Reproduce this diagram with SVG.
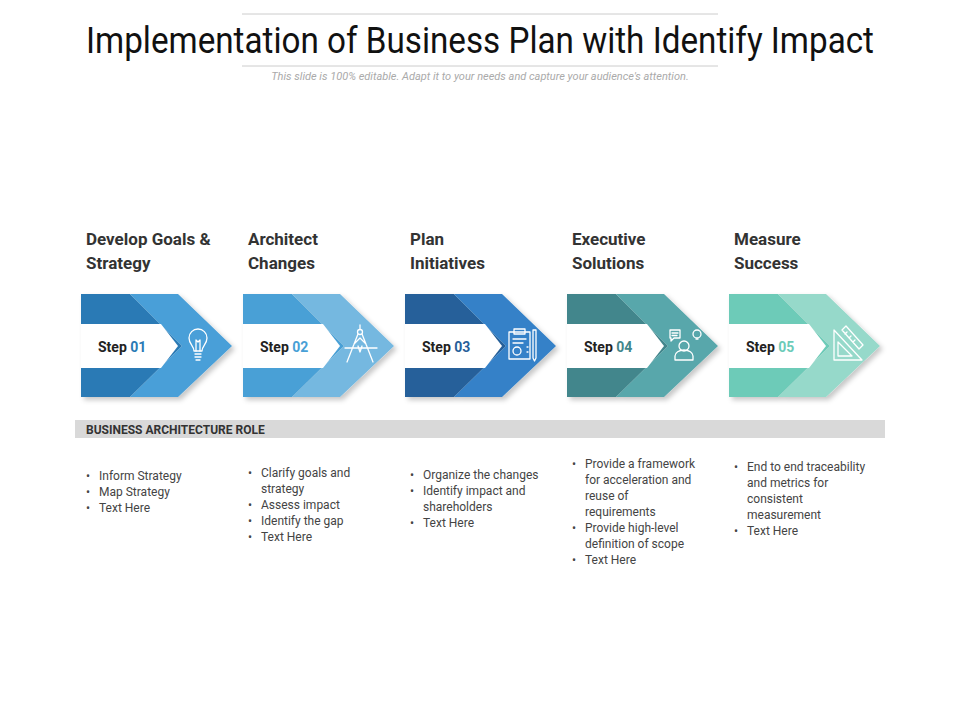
<svg xmlns="http://www.w3.org/2000/svg" width="960" height="720" viewBox="0 0 960 720">
<style>
text{font-family:"Liberation Sans Narrow","Roboto","Liberation Sans",sans-serif}
.h{font-size:17px;font-weight:bold;fill:#333}
.st{font-size:14px;font-weight:bold;fill:#222}
.b{font-size:12px;fill:#444}
.ic{fill:none;stroke:#fff;stroke-width:1.3;stroke-linejoin:round;stroke-linecap:round}
</style>
<defs>
<filter id="sh" x="-10%" y="-10%" width="130%" height="130%"><feDropShadow dx="3" dy="3" stdDeviation="2.5" flood-color="#000" flood-opacity="0.22"/></filter>
<g id="blk">
<polygon points="49,0 97,0 151,52 97,103 49,103 101,52" class="lt"/>
</g>
</defs>
<rect width="960" height="720" fill="#fff"/>
<line x1="242" y1="14" x2="718" y2="14" stroke="#ccc"/>
<line x1="242" y1="66" x2="718" y2="66" stroke="#ccc"/>
<text x="480" y="53" text-anchor="middle" font-size="36" fill="#111" textLength="788" lengthAdjust="spacingAndGlyphs">Implementation of Business Plan with Identify Impact</text>
<text x="480" y="80" text-anchor="middle" font-size="11" font-style="italic" fill="#aaa">This slide is 100% editable. Adapt it to your needs and capture your audience's attention.</text>

<g id="step1" transform="translate(81,294)">
<text class="h" x="5" y="-49">Develop Goals &amp;</text><text class="h" x="5" y="-25">Strategy</text>
<g filter="url(#sh)"><polygon points="0,0 49,0 101,52 49,103 0,103" fill="#2A7AB5"/><polygon points="49,0 97,0 151,52 97,103 49,103 101,52" fill="#4A9FD8"/></g>
<polygon points="0,30 80,30 97,52 80,74 0,74" fill="#fff"/>
<text class="st" x="17" y="58">Step <tspan fill="#2A7AB5">01</tspan></text>
<g class="ic"><path d="M113,57 C113,52 108,50 108,44 A9,9 0 0 1 126,44 C126,50 121,52 121,57 Z"/><path d="M114,60 H120 M114,63 H120 M115,66 H119 M115,57 L115,46 M119,57 L119,46 M115,46 l2,2 l2,-2"/></g>
</g>

<g id="step2" transform="translate(243,294)">
<text class="h" x="5" y="-49">Architect</text><text class="h" x="5" y="-25">Changes</text>
<g filter="url(#sh)"><polygon points="0,0 49,0 101,52 49,103 0,103" fill="#48A0D6"/><polygon points="49,0 97,0 151,52 97,103 49,103 101,52" fill="#74B8E0"/></g>
<polygon points="0,30 80,30 97,52 80,74 0,74" fill="#fff"/>
<text class="st" x="17" y="58">Step <tspan fill="#48A0D6">02</tspan></text>
<g class="ic"><circle cx="117" cy="38" r="2.5"/><path d="M117,35 V31 M115,40 L104,68 M119,40 L130,68 M102,54 H134 M111,50 L117,44 L123,50 M115,52 l2,6 l2,-6"/></g>
</g>

<g id="step3" transform="translate(405,294)">
<text class="h" x="5" y="-49">Plan</text><text class="h" x="5" y="-25">Initiatives</text>
<g filter="url(#sh)"><polygon points="0,0 49,0 101,52 49,103 0,103" fill="#27609A"/><polygon points="49,0 97,0 151,52 97,103 49,103 101,52" fill="#3481C8"/></g>
<polygon points="0,30 80,30 97,52 80,74 0,74" fill="#fff"/>
<text class="st" x="17" y="58">Step <tspan fill="#27609A">03</tspan></text>
<g class="ic"><rect x="104" y="38" width="21" height="27"/><rect x="109" y="35" width="11" height="5"/><path d="M108,45 H121 M108,49 H118 M122,53 h1 M122,58 h1"/><circle cx="112" cy="57" r="4"/><path d="M128,36 V64 l1.5,3 l1.5,-3 V36 Z"/></g>
</g>

<g id="step4" transform="translate(567,294)">
<text class="h" x="5" y="-49">Executive</text><text class="h" x="5" y="-25">Solutions</text>
<g filter="url(#sh)"><polygon points="0,0 49,0 101,52 49,103 0,103" fill="#43868C"/><polygon points="49,0 97,0 151,52 97,103 49,103 101,52" fill="#58A7AB"/></g>
<polygon points="0,30 80,30 97,52 80,74 0,74" fill="#fff"/>
<text class="st" x="17" y="58">Step <tspan fill="#43868C">04</tspan></text>
<g class="ic"><path d="M103,36 h10 v8 h-6 l-3,3 v-3 h-1 Z M105,39 h6 M105,41.5 h5"/><circle cx="130" cy="40" r="4"/><path d="M129,45 h2"/><circle cx="117" cy="52" r="5"/><path d="M108,66 v-4 a9,6 0 0 1 18,0 v4 Z"/></g>
</g>

<g id="step5" transform="translate(729,294)">
<text class="h" x="5" y="-49">Measure</text><text class="h" x="5" y="-25">Success</text>
<g filter="url(#sh)"><polygon points="0,0 49,0 101,52 49,103 0,103" fill="#6DCBB8"/><polygon points="49,0 97,0 151,52 97,103 49,103 101,52" fill="#96D9CA"/></g>
<polygon points="0,30 80,30 97,52 80,74 0,74" fill="#fff"/>
<text class="st" x="17" y="58">Step <tspan fill="#6DCBB8">05</tspan></text>
<g class="ic"><path d="M105,36 V66 H133 Z M109,48 V62 H123 Z"/><path d="M113,36 l4,-4 l17,19 l-4,4 Z M116,40 l2,-2 M120,44 l2,-2 M124,48 l2,-2"/></g>
</g>

<g id="role">
<rect x="75" y="420" width="810" height="18" fill="#D9D9D9"/>
<text x="86" y="434" font-size="12" font-weight="bold" fill="#333">BUSINESS ARCHITECTURE ROLE</text>
</g>

<g id="bullets" class="b">
<text class="b" x="86" y="480">•<tspan x="99">Inform Strategy</tspan></text>
<text class="b" x="86" y="496">•<tspan x="99">Map Strategy</tspan></text>
<text class="b" x="86" y="512">•<tspan x="99">Text Here</tspan></text>

<text class="b" x="248" y="477">•<tspan x="261">Clarify goals and</tspan></text>
<text class="b" x="261" y="493">strategy</text>
<text class="b" x="248" y="509">•<tspan x="261">Assess impact</tspan></text>
<text class="b" x="248" y="525">•<tspan x="261">Identify the gap</tspan></text>
<text class="b" x="248" y="541">•<tspan x="261">Text Here</tspan></text>

<text class="b" x="410" y="479">•<tspan x="423">Organize the changes</tspan></text>
<text class="b" x="410" y="495">•<tspan x="423">Identify impact and</tspan></text>
<text class="b" x="423" y="511">shareholders</text>
<text class="b" x="410" y="527">•<tspan x="423">Text Here</tspan></text>

<text class="b" x="572" y="468">•<tspan x="585">Provide a framework</tspan></text>
<text class="b" x="585" y="484">for acceleration and</text>
<text class="b" x="585" y="500">reuse of</text>
<text class="b" x="585" y="516">requirements</text>
<text class="b" x="572" y="532">•<tspan x="585">Provide high-level</tspan></text>
<text class="b" x="585" y="548">definition of scope</text>
<text class="b" x="572" y="564">•<tspan x="585">Text Here</tspan></text>

<text class="b" x="734" y="471">•<tspan x="747">End to end traceability</tspan></text>
<text class="b" x="747" y="487">and metrics for</text>
<text class="b" x="747" y="503">consistent</text>
<text class="b" x="747" y="519">measurement</text>
<text class="b" x="734" y="535">•<tspan x="747">Text Here</tspan></text>
</g>
</svg>
